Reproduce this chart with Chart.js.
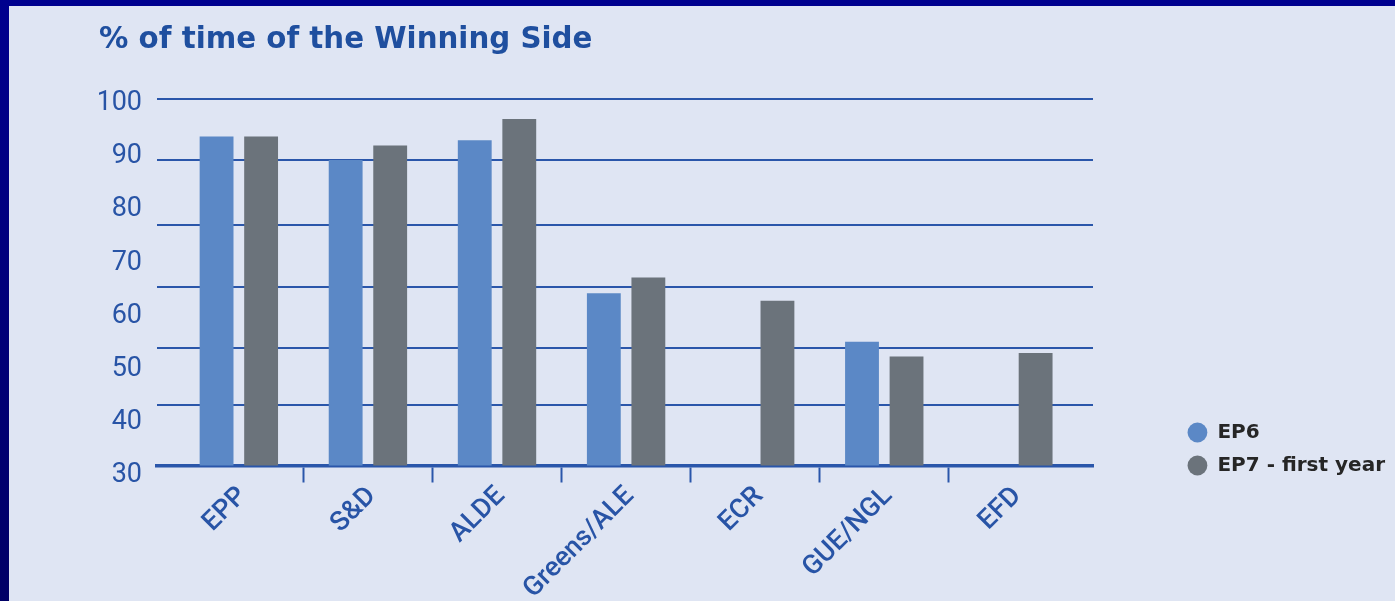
<!DOCTYPE html>
<html lang="en">
<head>
  <meta charset="UTF-8">
  <title>% of time of the Winning Side</title>
  <script src="https://cdn.jsdelivr.net/npm/chart.js"></script>
  <style>
    html, body { margin: 0; padding: 0; }
    body { width: 1395px; height: 601px; overflow: hidden; background: #dfe5f3; position: relative; }
    #top { position: absolute; left: 0; top: 0; width: 1395px; height: 6px; background: #00008e; }
    #left { position: absolute; left: 0; top: 0; width: 9px; height: 601px; background: linear-gradient(#00008e, #000066); }
    #chart { position: absolute; left: 0; top: 0; }
  </style>
</head>
<body>
  <div id="top"></div>
  <div id="left"></div>
  <canvas id="chart" width="1395" height="601"></canvas>

  <script>
    // values (% of votes on the winning side)
    const categories = ['EPP', 'S&D', 'ALDE', 'Greens/ALE', 'ECR', 'GUE/NGL', 'EFD'];
    const ep6 = [93.3, 88.9, 92.6, 63.8, null, 54.7, null];
    const ep7 = [93.3, 91.6, 96.6, 66.8, 62.4, 51.9, 52.6];
    const yTicks = [30, 40, 50, 60, 70, 80, 90, 100];
    const seriesNames = ['EP6', 'EP7 - first year'];
    // the blue rules in the original do not sit on the tick labels,
    // they are placed on their own 0..6 scale
    const ruleLevels = [0, 0.99, 1.93, 2.93, 3.94, 5.0, 6];

    const BLUE = '#2854a6';
    const GRID = '#2a56aa';
    const X_MIN = -0.634, X_MAX = 6.617;

    const toPoints = arr => categories.map((c, i) => ({ x: i, y: arr[i] }));

    new Chart(document.getElementById('chart'), {
      type: 'bar',
      data: {
        datasets: [
          { label: seriesNames[0], data: toPoints(ep6), backgroundColor: '#5b88c6', xAxisID: 'x', yAxisID: 'y' },
          { label: seriesNames[1], data: toPoints(ep7), backgroundColor: '#6b737b', xAxisID: 'x', yAxisID: 'y' }
        ]
      },
      options: {
        responsive: false,
        animation: false,
        datasets: { bar: { categoryPercentage: 0.69, barPercentage: 0.76, borderWidth: 0 } },
        layout: { padding: { left: 99, right: 0, top: 0, bottom: 112.5 } },
        plugins: {
          title: {
            display: true,
            text: '% of time of the Winning Side',
            align: 'start',
            color: '#1f4f9f',
            font: { family: 'DejaVu Sans', size: 29.3, weight: 'bold', lineHeight: 1.2 },
            padding: { top: 22.6, bottom: 41.7 }
          },
          legend: {
            position: 'right',
            align: 'end',
            maxWidth: 300,
            labels: {
              usePointStyle: true,
              pointStyle: 'circle',
              boxWidth: 20,
              boxHeight: 14,
              padding: 13,
              color: '#262626',
              font: { family: 'DejaVu Sans', size: 20, weight: 'bold' }
            }
          },
          tooltip: { enabled: false }
        },
        scales: {
          x: {
            type: 'linear',
            position: 'bottom',
            weight: 1,
            offset: false,
            min: X_MIN,
            max: X_MAX,
            afterBuildTicks: axis => { axis.ticks = categories.map((c, i) => ({ value: i })); },
            afterFit: axis => {
              axis.height = 6;
              // labels hang below the thin axis box, so don't clip them to it
              axis._computeLabelArea = () => undefined;
            },
            grid: { display: false, drawTicks: false, offset: false },
            border: { display: false },
            ticks: {
              autoSkip: false,
              minRotation: 45,
              maxRotation: 45,
              padding: -2,
              labelOffset: 4,
              color: BLUE,
              font: { family: 'Roboto', size: 27, weight: 500 },
              callback: (v, i) => categories[i]
            }
          },
          // short tick marks between groups + the thick base line
          x2: {
            type: 'linear',
            position: 'bottom',
            weight: 0,
            z: 1,
            offset: false,
            min: X_MIN,
            max: X_MAX,
            afterBuildTicks: axis => { axis.ticks = categories.slice(1).map((c, i) => ({ value: i + 0.5 })); },
            afterFit: axis => { axis.height = 17; },
            grid: { offset: false, drawOnChartArea: false, tickLength: 17, tickWidth: 2, tickColor: GRID },
            border: { display: true, color: GRID, width: 3.5 },
            ticks: { display: false }
          },
          y: {
            type: 'linear',
            position: 'left',
            min: 31.41,
            max: 100.28,
            afterBuildTicks: axis => { axis.ticks = yTicks.map(v => ({ value: v })); },
            afterFit: axis => { axis.width = 58; },
            grid: { display: false, drawTicks: false },
            border: { display: false },
            ticks: { autoSkip: false, padding: 15, labelOffset: 2.5, color: BLUE, font: { family: 'Roboto', size: 27 } }
          },
          y2: {
            type: 'linear',
            position: 'left',
            min: 0,
            max: 6,
            afterBuildTicks: axis => { axis.ticks = ruleLevels.map(v => ({ value: v })); },
            afterFit: axis => { axis.width = 0; },
            grid: { color: GRID, lineWidth: 2, drawTicks: false },
            border: { display: false },
            ticks: { display: false }
          },
          // empty space between the plot and the legend
          y3: {
            type: 'linear',
            position: 'right',
            afterFit: axis => {
              const lw = axis.chart.legend && axis.chart.legend.width ? axis.chart.legend.width : 221;
              axis.width = Math.max(0, 1395 - 1093 - lw);
            },
            grid: { display: false, drawTicks: false },
            border: { display: false },
            ticks: { display: false }
          }
        }
      }
    });
  </script>
</body>
</html>
